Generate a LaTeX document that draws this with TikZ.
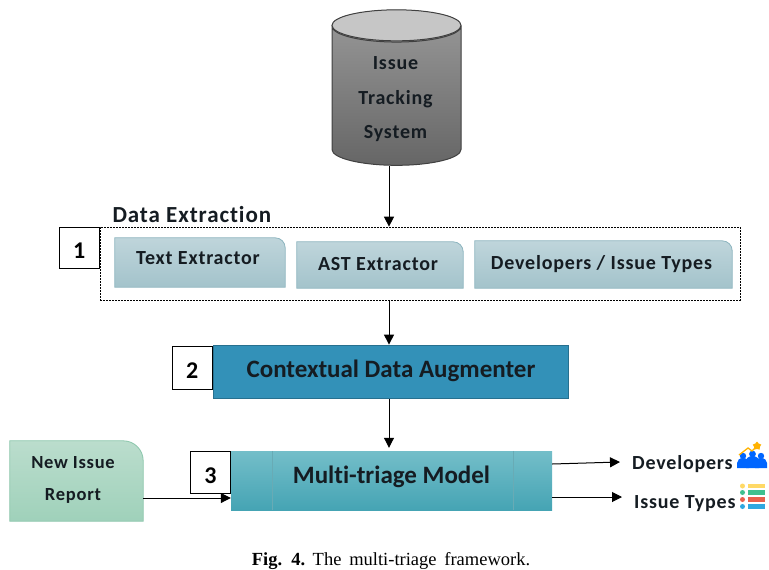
\documentclass[tikz,border=0pt]{standalone}
\usepackage{fontspec}
\setmainfont{Carlito}[Ligatures=NoCommon]
\newfontfamily\widefont{Carlito}[LetterSpace=4,Ligatures=NoCommon]
\newfontfamily\capfont{Liberation Serif}
\usepackage{tikz}
\usetikzlibrary{shapes, shapes.geometric, arrows.meta, positioning, calc, backgrounds}
\definecolor{tabtop}{HTML}{BFD5DB}
\definecolor{tabbot}{HTML}{A3C3CB}
\definecolor{tabline}{HTML}{8DB5BF}
\definecolor{newtop}{HTML}{BBDDCD}
\definecolor{newbot}{HTML}{9FD1BA}
\definecolor{newline}{HTML}{8BC6AB}
\definecolor{augfill}{HTML}{3391B8}
\definecolor{augline}{HTML}{27708F}
\definecolor{modtop}{HTML}{74BEC9}
\definecolor{modmid}{HTML}{55B7C5}
\definecolor{modbot}{HTML}{45A4B4}
\definecolor{inktext}{HTML}{151C22}

\begin{document}
\begin{tikzpicture}[
        x=1pt, y=1pt,
        >={Triangle[length=10pt,width=10pt]},
        arrow/.style={->, line width=1pt, black},
        database/.style={cylinder, shape border rotate=90, aspect=0.44, draw=black!75, line width=1pt, top color=gray!80, bottom color=gray!80!black, minimum width=129pt, minimum height=155pt, inner sep=0pt, align=center, text=inktext, font=\widefont\fontsize{20}{34.5}\selectfont\bfseries},
        numbox/.style={rectangle, draw, fill=white, line width=0.9pt, minimum width=40pt, minimum height=41pt, inner sep=0pt, execute at begin node={\rule{0pt}{22pt}}, font=\fontsize{24}{26}\selectfont\bfseries},
        tabtext/.style={rectangle, inner sep=0pt, text=inktext, font=\widefont\fontsize{20}{20}\selectfont\bfseries},
        tabshade/.style={top color=tabtop, bottom color=tabbot, draw=tabline, line width=0.8pt},
        newshade/.style={top color=newtop, bottom color=newbot, draw=newline, line width=0.8pt},
        augmenter/.style={rectangle, draw=augline, fill=augfill, line width=1.8pt, minimum width=355pt, minimum height=53pt, text=inktext, font=\fontsize{25}{26}\selectfont\bfseries},
        model/.style={rectangle, top color=modtop, middle color=modmid, bottom color=modbot, minimum width=321pt, minimum height=59pt, text=inktext, font=\fontsize{25}{26}\selectfont\bfseries},
        output/.style={rectangle, inner xsep=12pt, inner ysep=0pt, text=inktext, font=\widefont\fontsize{20}{20}\selectfont\bfseries}
    ]
    \useasboundingbox (0,0) rectangle (769,-570);

    % --- Source ---
    \node (tracker) [database] at (396.5,-96) {\rule{0pt}{20pt}\hspace*{-2pt}Issue\\\hspace*{-2pt}Tracking\\\hspace*{-2pt}System};
    \fill[gray!45, draw=black!75, line width=1pt] ($(tracker.north)+(0,-15.5)$) ellipse [x radius=64.5, y radius=15.5];

    % --- Data Extraction ---
    \node (frame) [rectangle, draw, dash pattern=on 2pt off 1pt, line width=0.7pt, minimum width=640pt, minimum height=73pt] at (420,-263.5) {};
    \node (one) [numbox, anchor=north east] at (frame.north west) {1};
    \node (dtitle) [anchor=west, text=inktext, font=\widefont\fontsize{23}{24}\selectfont\bfseries] at (109,-215) {Data Extraction};
    \node (textx) [tabtext, minimum width=170pt, minimum height=49pt] at (200,-262.5) {\raisebox{8pt}{\hspace*{-4pt}Text Extractor}};
    \node (astx) [tabtext, minimum width=166pt, minimum height=46pt] at (380,-265) {\raisebox{3pt}{\hspace*{-4pt}AST Extractor}};
    \node (typex) [tabtext, minimum width=257pt, minimum height=47pt] at (603.5,-264.5) {\raisebox{3pt}{\hspace*{-4pt}Developers / Issue Types}};

    % --- Augmenter ---
    \node (augment) [augmenter] at (391,-372) {\raisebox{6pt}{Contextual Data Augmenter}};
    \node (two) [numbox, left=0pt of augment.west, yshift=4.5pt, minimum height=43pt] {2};

    % --- Model ---
    \node (triage) [model] at (391.5,-480.5) {\raisebox{11pt}{Multi-triage Model}};
    \node (three) [numbox, anchor=north east, minimum height=42pt] at (triage.north west) {3};
    \draw[modtop!90!black, line width=0.4pt] ([xshift=41]triage.north west) -- ([xshift=41]triage.south west);
    \draw[modtop!90!black, line width=0.4pt] ([xshift=-39]triage.north east) -- ([xshift=-39]triage.south east);
    \node (newissue) [tabtext, align=center, minimum width=133pt, minimum height=80pt, font=\widefont\fontsize{18.5}{32}\selectfont\bfseries] at (76.5,-481) {\raisebox{5pt}{\hspace*{-7pt}New Issue}\\\raisebox{5pt}{\hspace*{-7pt}Report}};
    \node (devs) [output, anchor=west] at (620,-464) {Developers};
    \node (types) [output, anchor=west] at (622,-504) {Issue Types};

    % --- Tabs with one round corner ---
    \begin{scope}[on background layer]
        \foreach \tab/\look/\rad in {textx/tabshade/10, astx/tabshade/10, typex/tabshade/10, newissue/newshade/20}
            \path[\look] (\tab.south west) -- (\tab.north west) -- ([xshift=-\rad]\tab.north east)
                to[out=0, in=90] ([yshift=-\rad]\tab.north east) -- (\tab.south east) -- cycle;
    \end{scope}

    % --- Paths ---
    \coordinate (spine) at (389,0);
    \draw[arrow] (spine |- tracker.south) -- (spine |- frame.north);
    \draw[arrow] (spine |- frame.south) -- (spine |- augment.north);
    \draw[arrow] (spine |- augment.south) -- ($(spine |- triage.north)+(0,3)$);
    \draw[arrow] ([yshift=-17]newissue.east) -- ([yshift=-17.5]triage.west);
    \draw[arrow] ([yshift=16.5]triage.east) -- ([yshift=2]devs.west);
    \draw[arrow] ([yshift=-16.5]triage.east) -- ([yshift=7]types.west);

    % --- Developers icon ---
    \fill[blue!60!cyan] (737,-468) -- (737,-463) arc[start angle=180, end angle=0, x radius=6, y radius=5] -- (749,-468) -- cycle;
    \fill[blue!60!cyan] (746,-468) -- (746,-461) arc[start angle=180, end angle=0, x radius=6.5, y radius=5] -- (759,-468) -- cycle;
    \fill[blue!60!cyan] (755,-468) -- (755,-463) arc[start angle=180, end angle=0, x radius=6, y radius=5] -- (767,-468) -- cycle;
    \fill[blue!60!cyan] (743,-456) circle (3.2) (752.5,-454) circle (3.4) (761,-456) circle (3.2);
    \draw[orange!60!yellow, line width=1.3pt] (739,-455) -- (748,-448) -- (752,-451) -- (757,-446);
    \node (star) [star, star points=5, fill=orange!60!yellow, inner sep=0pt, minimum size=9pt] at (757,-446) {};

    % --- Issue Types icon ---
    \foreach \row/\hue in {486/FFD966, 492.5/3FC08F, 499.5/E8604C, 506.5/2FA8E0} {
        \definecolor{rowhue}{HTML}{\hue}
        \fill[rowhue] (742.5,-\row) circle (2.5);
        \fill[rowhue] (748,-\row-2.3) rectangle (765,-\row+2.3);
    }

    % Caption
    \node (caption) [font=\capfont\fontsize{18.5}{20}\selectfont] at (391,-561) {\spaceskip=0.42em\textbf{Fig. 4.}\hspace{0.4em}The multi-triage framework.};
\end{tikzpicture}
\end{document}
